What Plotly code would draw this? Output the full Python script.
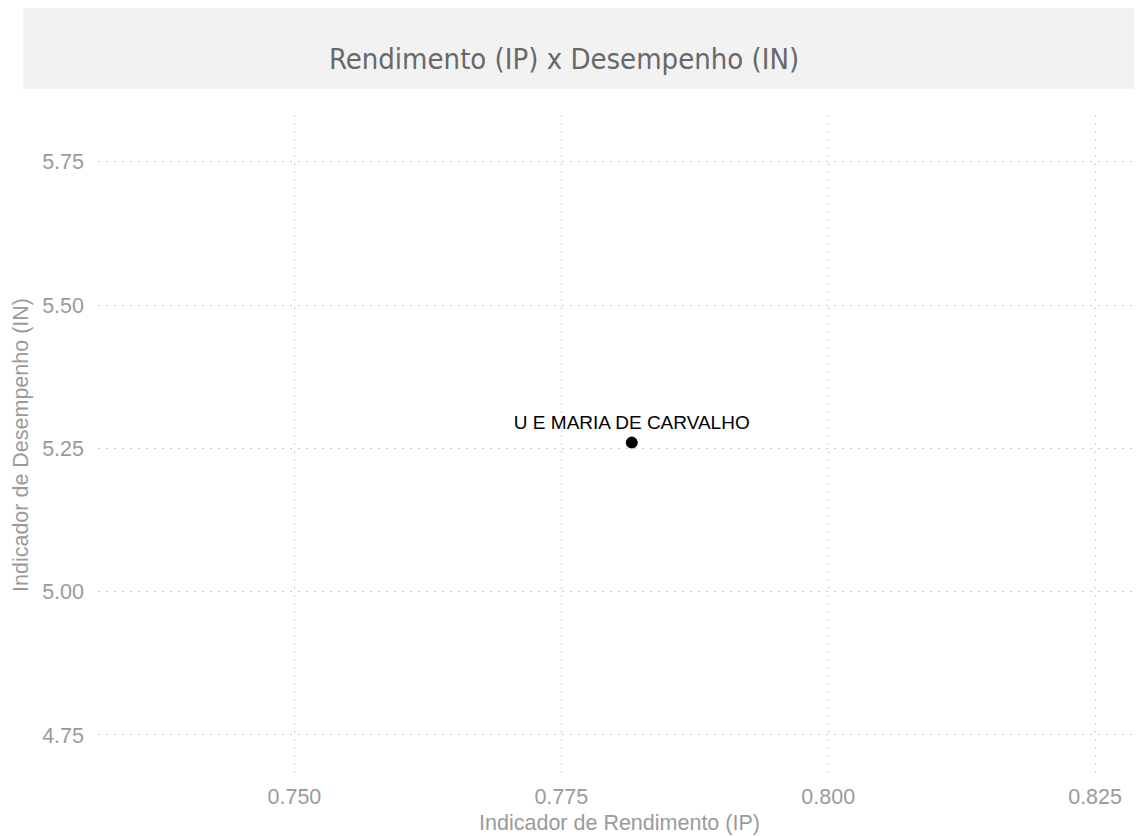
import plotly.graph_objects as go

# data
escolas = ['U E MARIA DE CARVALHO']
rendimento_ip = [0.7816]   # x: Indicador de Rendimento (IP)
desempenho_in = [5.26]     # y: Indicador de Desempenho (IN)

x_ticks = [0.750, 0.775, 0.800, 0.825]
x_labels = ['0.750', '0.775', '0.800', '0.825']
y_ticks = [4.75, 5.00, 5.25, 5.50, 5.75]
y_labels = ['4.75', '5.00', '5.25', '5.50', '5.75']

W, H = 1142, 836
L, R, T, B = 90, 9, 107, 69  # plot area margins in px
pw, ph = W - L - R, H - T - B

fig = go.Figure()
fig.add_trace(go.Scatter(
    x=rendimento_ip, y=desempenho_in, mode='markers+text',
    text=escolas, textposition='top center',
    textfont=dict(family='Liberation Sans, Arial, sans-serif', size=19, color='#000000'),
    marker=dict(size=12, color='#000000'),
    hoverinfo='skip', showlegend=False,
))

# grey band behind the title
fig.add_shape(type='rect', xref='paper', yref='paper',
              x0=(15 - L) / pw, x1=(W + 5 - L) / pw,
              y0=(H - B - 81) / ph, y1=(H - B + 2) / ph,
              fillcolor='#f2f2f2', line=dict(width=0), layer='below')

axis_font = dict(family='Liberation Sans, Arial, sans-serif', size=21.5, color='#9a9a9a')
title_font = dict(family='Liberation Sans, Arial, sans-serif', size=21.5, color='#9a9a9a')

fig.update_layout(
    width=W, height=H,
    margin=dict(l=L, r=R, t=T, b=B, autoexpand=False),
    paper_bgcolor='white', plot_bgcolor='white',
    title=dict(text='Rendimento (IP) x Desempenho (IN)',
               x=556 / W, xref='container', xanchor='center',
               y=1 - 51 / H, yref='container', yanchor='middle',
               font=dict(family='Liberation Sans Narrow, DejaVu Sans Condensed, sans-serif',
                         size=29, color='#686868')),
    xaxis=dict(range=[0.7316, 0.8293], tickvals=x_ticks, ticktext=x_labels,
               showgrid=True, gridcolor='#cfcfcf', griddash='2px,6px', gridwidth=1,
               zeroline=False, showline=False, ticks='', ticklabelstandoff=6,
               tickfont=axis_font, automargin=False,
               title=dict(text='Indicador de Rendimento (IP)', font=title_font, standoff=7)),
    yaxis=dict(range=[4.6802, 5.8315], tickvals=y_ticks, ticktext=y_labels,
               showgrid=True, gridcolor='#cfcfcf', griddash='2px,6px', gridwidth=1,
               zeroline=False, showline=False, ticks='', ticklabelstandoff=13,
               tickfont=axis_font, automargin=False,
               title=dict(text='Indicador de Desempenho (IN)', font=title_font, standoff=7)),
)

fig.write_html('out.html')
